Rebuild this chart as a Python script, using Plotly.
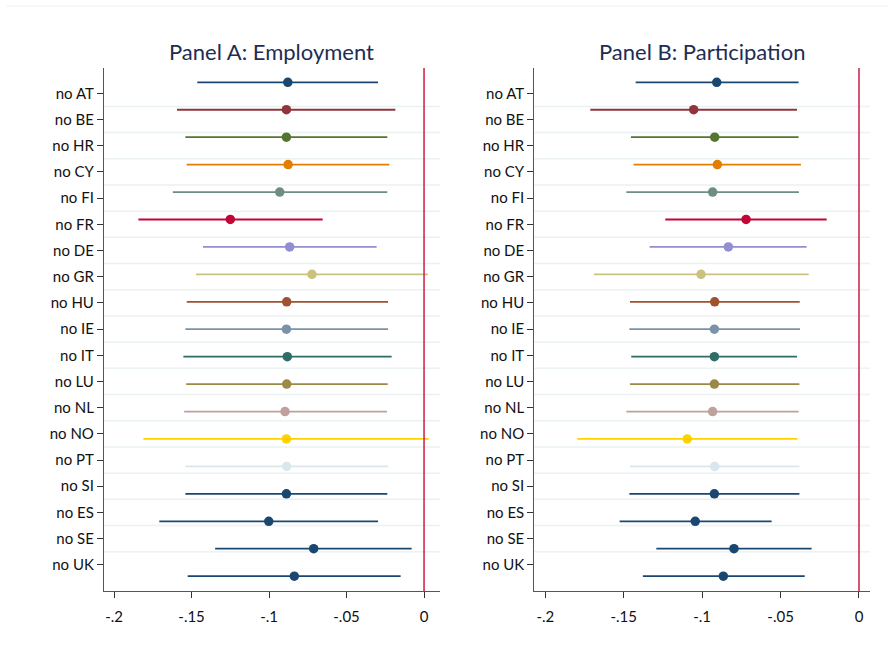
import plotly.graph_objects as go

countries = ["no AT", "no BE", "no HR", "no CY", "no FI", "no FR", "no DE", "no GR", "no HU",
             "no IE", "no IT", "no LU", "no NL", "no NO", "no PT", "no SI", "no ES", "no SE", "no UK"]

emp_coef = [-0.0879, -0.0888, -0.0888, -0.0877, -0.0931, -0.1250, -0.0867, -0.0723, -0.0886,
            -0.0888, -0.0882, -0.0886, -0.0897, -0.0888, -0.0886, -0.0888, -0.1002, -0.0712, -0.0837]
emp_lo = [-0.1463, -0.1594, -0.1540, -0.1531, -0.1621, -0.1843, -0.1426, -0.1471, -0.1531,
          -0.1540, -0.1553, -0.1535, -0.1548, -0.1811, -0.1540, -0.1540, -0.1708, -0.1348, -0.1525]
emp_hi = [-0.0297, -0.0185, -0.0237, -0.0224, -0.0237, -0.0654, -0.0306, 0.0024, -0.0232,
          -0.0232, -0.0209, -0.0234, -0.0239, 0.0030, -0.0230, -0.0237, -0.0297, -0.0080, -0.0151]

par_coef = [-0.0907, -0.1054, -0.0920, -0.0903, -0.0933, -0.0720, -0.0833, -0.1007, -0.0920,
            -0.0922, -0.0922, -0.0922, -0.0933, -0.1095, -0.0920, -0.0922, -0.1044, -0.0797, -0.0865]
par_lo = [-0.1424, -0.1713, -0.1454, -0.1437, -0.1483, -0.1235, -0.1335, -0.1690, -0.1460,
          -0.1464, -0.1452, -0.1460, -0.1483, -0.1796, -0.1460, -0.1464, -0.1526, -0.1292, -0.1378]
par_hi = [-0.0385, -0.0395, -0.0385, -0.0370, -0.0383, -0.0206, -0.0334, -0.0321, -0.0378,
          -0.0376, -0.0395, -0.0380, -0.0385, -0.0393, -0.0380, -0.0380, -0.0557, -0.0302, -0.0346]

colors = ["#1a476f", "#90353b", "#55752f", "#e37e00", "#6e8e84", "#c10534", "#938dd2", "#cac27e",
          "#a0522d", "#7b92a8", "#2d6d66", "#9c8847", "#bfa19c", "#ffd200", "#d9e6eb",
          "#1a476f", "#1a476f", "#1a476f", "#1a476f"]

x_ticks = [-0.2, -0.15, -0.1, -0.05, 0]
x_ticktext = ["-.2", "-.15", "-.1", "-.05", "0"]

n = len(countries)
# coefplot-style offset between label ticks and markers (style)
tick_pos = [0.401 + 0.9548 * i for i in range(n)]
grid_pos = [0.878 + 0.9548 * i for i in range(n - 1)]

FONT = "Lato"
fig = go.Figure()

panels = [
    ("x", "y", emp_coef, emp_lo, emp_hi, [-0.2065, 0.0103], [0.1171, 0.4955]),
    ("x2", "y2", par_coef, par_lo, par_hi, [-0.207, 0.007], [0.6017, 0.9797]),
]

shapes = []
for xa, ya, coef, lo, hi, xr, dom in panels:
    for g in grid_pos:
        shapes.append(dict(type="line", xref=xa + " domain", yref=ya, x0=0, x1=1, y0=g, y1=g,
                           line=dict(color="#eaf2f3", width=1.5), layer="below"))
    shapes.append(dict(type="line", xref=xa, yref=ya + " domain", x0=0, x1=0, y0=0, y1=1,
                       line=dict(color="#d02a55", width=1.6)))
    for i in range(n):
        fig.add_trace(go.Scatter(
            x=[lo[i], hi[i]], y=[i, i], mode="lines",
            line=dict(color=colors[i], width=1.8), xaxis=xa, yaxis=ya,
            showlegend=False, hoverinfo="skip"))
        fig.add_trace(go.Scatter(
            x=[coef[i]], y=[i], mode="markers",
            marker=dict(color=colors[i], size=9.5), xaxis=xa, yaxis=ya,
            showlegend=False))

def xaxis_cfg(rng, dom, anchor):
    return dict(range=rng, domain=dom, anchor=anchor, tickmode="array", tickvals=x_ticks,
                ticktext=x_ticktext, showgrid=False, zeroline=False, showline=True,
                linecolor="#555555", linewidth=1.2, ticks="outside", ticklen=6, tickwidth=1,
                tickcolor="#333333", automargin=False, ticklabelstandoff=6,
                tickfont=dict(family=FONT, size=15, color="#111111"))

def yaxis_cfg(anchor):
    return dict(range=[18.54, -0.521], domain=[0.0936, 0.8957], anchor=anchor, tickmode="array",
                tickvals=tick_pos, ticktext=countries, showgrid=False, zeroline=False,
                showline=True, linecolor="#555555", linewidth=1.2, ticks="outside", ticklen=6,
                tickwidth=1, tickcolor="#333333", automargin=False,
                tickfont=dict(family=FONT, size=15, color="#111111"))

fig.update_layout(
    width=888, height=652, margin=dict(l=0, r=0, t=0, b=0),
    paper_bgcolor="white", plot_bgcolor="white",
    xaxis=xaxis_cfg(panels[0][5], panels[0][6], "y"),
    yaxis=yaxis_cfg("x"),
    xaxis2=xaxis_cfg(panels[1][5], panels[1][6], "y2"),
    yaxis2=yaxis_cfg("x2"),
    shapes=shapes + [dict(type="line", xref="paper", yref="paper", x0=6/888, x1=1,
                          y0=1-6/652, y1=1-6/652, line=dict(color="#eef3f3", width=1))],
    annotations=[
        dict(text="Panel A: Employment", x=271.5/888, y=1-51.7/652, xref="paper", yref="paper",
             showarrow=False, xanchor="center", yanchor="middle",
             font=dict(family=FONT, size=22, color="#1e2d53")),
        dict(text="Panel B: Participation", x=702/888, y=1-51.7/652, xref="paper", yref="paper",
             showarrow=False, xanchor="center", yanchor="middle",
             font=dict(family=FONT, size=22, color="#1e2d53")),
    ],
)

fig.write_html("out.html", config={"displayModeBar": False},
               post_script="document.body.style.margin='0';document.body.style.padding='0';")
